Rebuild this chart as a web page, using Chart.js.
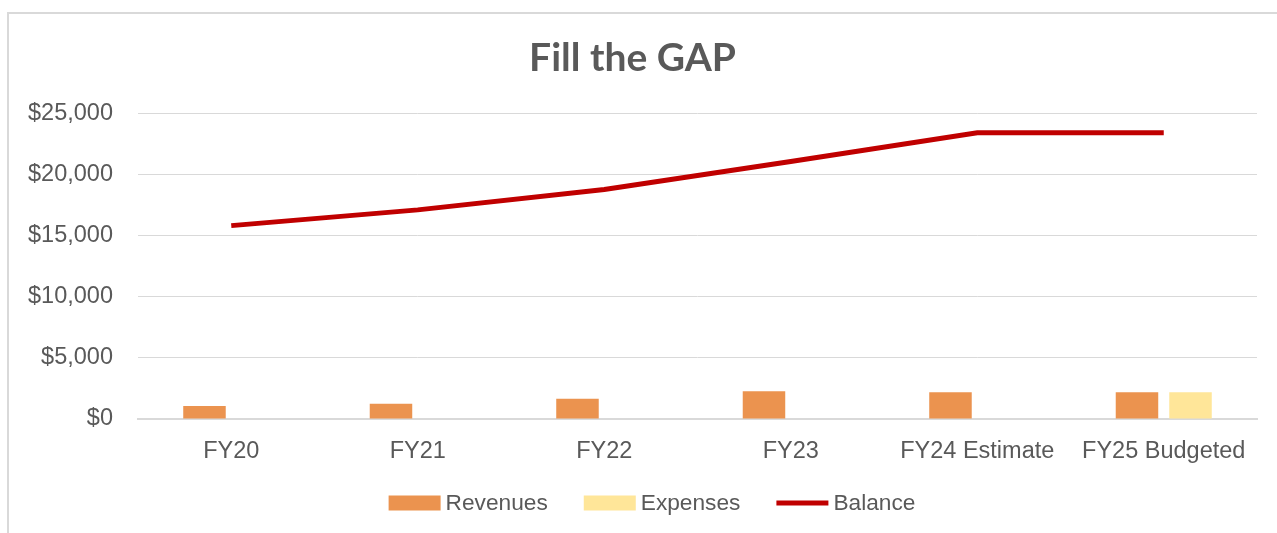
<!DOCTYPE html>
<html lang="en">
<head>
    <meta charset="UTF-8">
    <title>Fill the GAP</title>
    <script src="https://cdn.jsdelivr.net/npm/chart.js@4.4.0/dist/chart.umd.min.js"></script>
    <style>
        body { margin: 0; background: #fff; }
        .wrapper { position: relative; width: 1277px; height: 533px; }
        .frame { position: absolute; left: 7px; top: 12px; right: 0; bottom: 0;
                 border-top: 2px solid #d9d9d9; border-left: 2px solid #d9d9d9; }
        canvas { position: absolute; left: 0; top: 0; }
    </style>
</head>
<body>
    <div class="wrapper">
        <div class="frame"></div>
        <canvas id="myChart" width="1277" height="533"></canvas>
    </div>
    <script>
        var years = ["FY20", "FY21", "FY22", "FY23", "FY24 Estimate", "FY25 Budgeted"];
        var revenues = [1070, 1240, 1650, 2270, 2190, 2190];
        var expenses = [null, null, null, null, null, 2190];
        var balance = [15840, 17130, 18800, 21100, 23440, 23440];
        var yTicks = [0, 5000, 10000, 15000, 20000, 25000];

        var grey = "#595959";
        var legendFont = "22.7px 'Liberation Sans'";

        // Excel-style legend: wide swatches, wide gaps, a bit right of centre
        var bottomLegend = {
            id: 'bottomLegend',
            afterDraw: function (chart) {
                var c = chart.ctx;
                var sets = chart.data.datasets;
                c.save();
                c.font = legendFont;
                c.textBaseline = 'middle';
                c.textAlign = 'left';
                var widths = sets.map(function (d) { return c.measureText(d.label).width; });
                var total = 0;
                widths.forEach(function (w) { total += 52 + 5 + w; });
                total += 36 * (sets.length - 1);
                var x = 652 - total / 2;
                var y = 503;
                sets.forEach(function (d, i) {
                    c.fillStyle = d.type === 'line' ? d.borderColor : d.backgroundColor;
                    if (d.type === 'line') c.fillRect(x, y - 2.5, 52, 5);
                    else c.fillRect(x, y - 7.5, 52, 15);
                    c.fillStyle = grey;
                    c.fillText(d.label, x + 57, y + 1);
                    x += 52 + 5 + widths[i] + 36;
                });
                c.restore();
            }
        };

        var ctx = document.getElementById("myChart").getContext('2d');
        var chart = new Chart(ctx, {
            type: 'bar',
            data: {
                labels: years,
                datasets: [
                    {
                        label: "Revenues",
                        backgroundColor: "#EB934F",
                        data: revenues,
                        categoryPercentage: 0.574,
                        barPercentage: 0.794
                    },
                    {
                        label: "Expenses",
                        backgroundColor: "#FFE699",
                        data: expenses,
                        categoryPercentage: 0.574,
                        barPercentage: 0.794
                    },
                    {
                        type: 'line',
                        label: "Balance",
                        borderColor: "#C00000",
                        backgroundColor: "#C00000",
                        borderWidth: 5,
                        pointRadius: 0,
                        tension: 0,
                        data: balance
                    }
                ]
            },
            plugins: [bottomLegend],
            options: {
                responsive: false,
                animation: false,
                layout: { padding: { left: 8, right: 20, top: 13, bottom: 0 } },
                scales: {
                    x: {
                        grid: { display: false, drawTicks: false },
                        border: { color: "#d9d9d9", width: 2 },
                        ticks: { color: grey, font: { family: "Liberation Sans", size: 23.5 }, padding: 18, maxRotation: 0 },
                        afterFit: function (s) { s.height = 114; }
                    },
                    y: {
                        min: 0,
                        max: 25000,
                        border: { display: false },
                        grid: { color: "#d9d9d9", lineWidth: 1, drawTicks: false },
                        afterBuildTicks: function (s) { s.ticks = yTicks.map(function (v) { return {value: v}; }); },
                        ticks: {
                            color: grey,
                            font: { family: "Liberation Sans", size: 23.5 },
                            padding: 25,
                            callback: function (v) { return "$" + v.toLocaleString("en-US"); }
                        },
                        afterFit: function (s) { s.width = 130; }
                    }
                },
                plugins: {
                    title: {
                        display: true,
                        text: "Fill the GAP",
                        color: grey,
                        font: { family: "Lato", size: 39, weight: "bold" },
                        padding: { top: 22, bottom: 32 }
                    },
                    legend: { display: false },
                    tooltip: { enabled: false }
                }
            }
        });
    </script>
</body>
</html>
